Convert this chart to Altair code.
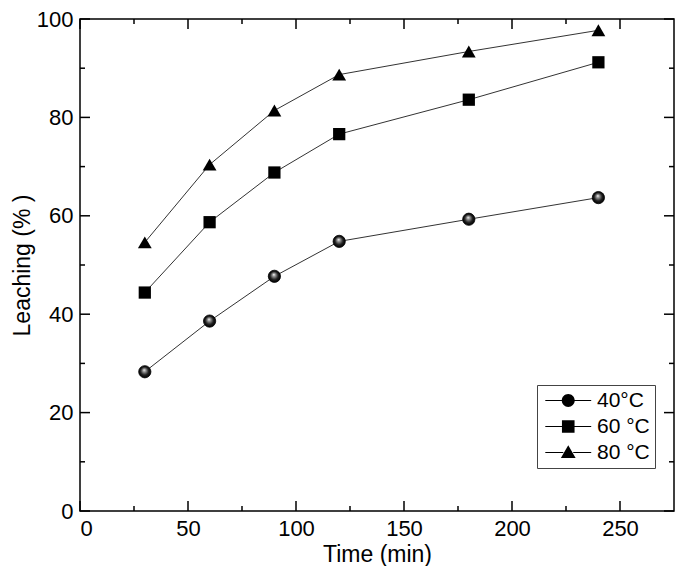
import altair as alt
import pandas as pd

time = [30, 60, 90, 120, 180, 240]
leach_40 = [28.3, 38.6, 47.7, 54.8, 59.3, 63.7]
leach_60 = [44.4, 58.7, 68.8, 76.6, 83.6, 91.2]
leach_80 = [54.6, 70.4, 81.4, 88.7, 93.4, 97.7]
series_names = ["40°C", "60 °C", "80 °C"]

x_major = [0, 50, 100, 150, 200, 250]
x_minor = [25, 75, 125, 175, 225]
y_major = [0, 20, 40, 60, 80, 100]
y_minor = [10, 30, 50, 70, 90]

rows = []
for name, vals in zip(series_names, [leach_40, leach_60, leach_80]):
    for t, v in zip(time, vals):
        rows.append({"time": t, "leach": v, "series": name})
df = pd.DataFrame(rows)

W, H = 594, 492
FONT = "Liberation Sans"
xscale = alt.Scale(domain=[0, 275], nice=False, zero=False)
yscale = alt.Scale(domain=[0, 100], nice=False, zero=False)

base = alt.Chart(df)

main_x = alt.X("time:Q", scale=xscale,
               axis=alt.Axis(orient="bottom", values=x_major, tickSize=0, domain=False,
                             grid=False, title="Time (min)", labelFontSize=22,
                             titleFontSize=23, titleFontWeight="normal", labelPadding=7,
                             titlePadding=4, labelColor="black", titleColor="black",
                             labelFont=FONT, titleFont=FONT))
main_y = alt.Y("leach:Q", scale=yscale,
               axis=alt.Axis(orient="left", values=y_major, tickSize=0, domain=False,
                             grid=False, title="Leaching (% )", labelFontSize=22,
                             titleFontSize=23, titleFontWeight="normal", labelPadding=7,
                             titlePadding=2, labelColor="black", titleColor="black",
                             labelFont=FONT, titleFont=FONT))

px = alt.X("time:Q", scale=xscale)
py = alt.Y("leach:Q", scale=yscale)

lines = base.mark_line(color="#333333", strokeWidth=1).encode(
    x=main_x, y=main_y, detail="series:N")

sphere = alt.RadialGradient(
    gradient="radial",
    stops=[alt.GradientStop(color="#ffffff", offset=0),
           alt.GradientStop(color="#a0a0a0", offset=0.22),
           alt.GradientStop(color="#202020", offset=0.65),
           alt.GradientStop(color="#000000", offset=1)],
    x1=0.45, y1=0.35, r1=0, x2=0.5, y2=0.5, r2=0.5)

pts40 = base.transform_filter(alt.datum.series == series_names[0]).mark_point(
    shape="circle", filled=True, fill=sphere, stroke="#000000", strokeWidth=0.8,
    size=150, opacity=1).encode(x=px, y=py)
pts60 = base.transform_filter(alt.datum.series == series_names[1]).mark_point(
    shape="square", filled=True, color="black", size=150, opacity=1).encode(x=px, y=py)
pts80 = base.transform_filter(alt.datum.series == series_names[2]).mark_point(
    shape="triangle-up", filled=True, color="black", size=190, opacity=1).encode(x=px, y=py)

# legend symbols: thin filled bar (the line) + marker, extending right of the slot
bar = "M-0.8,-0.055H1.2V0.055H-0.8ZM2.3,-0.055H4.3V0.055H2.3Z"
legend_paths = [
    bar + "M1.03,0A0.72,0.72,0,1,1,2.47,0A0.72,0.72,0,1,1,1.03,0Z",
    bar + "M1.05,-0.7H2.45V0.7H1.05Z",
    bar + "M1.75,-0.8L2.57,0.62H0.93Z",
]
legend_layer = base.transform_filter("false").mark_point(
    filled=True, color="black", opacity=1).encode(
    shape=alt.Shape("series:N",
                    scale=alt.Scale(domain=series_names, range=legend_paths),
                    legend=alt.Legend(orient="none", legendX=457, legendY=366,
                                      title=None, symbolSize=324,
                                      symbolFillColor="black", symbolOpacity=1,
                                      labelFontSize=21, labelFont=FONT,
                                      labelColor="black", labelOffset=34,
                                      rowPadding=4, padding=5,
                                      strokeColor="#444444", fillColor="white")))

# inward tick marks on all four sides, positioned by the scales
xmaj = pd.DataFrame({"time": x_major})
xmin = pd.DataFrame({"time": x_minor})
ymaj = pd.DataFrame({"leach": y_major})
ymin = pd.DataFrame({"leach": y_minor})
MAJ, MIN = 10, 5


def xtick(d, at, length):
    return alt.Chart(d).mark_rule(color="black", strokeWidth=1.5).encode(
        x=px, y=alt.value(at), y2=alt.value(at - length if at > 0 else at + length))


def ytick(d, at, length):
    return alt.Chart(d).mark_rule(color="black", strokeWidth=1.5).encode(
        y=py, x=alt.value(at), x2=alt.value(at - length if at > 0 else at + length))


ticks = [
    xtick(xmaj, H, MAJ), xtick(xmin, H, MIN), xtick(xmaj, 0, MAJ), xtick(xmin, 0, MIN),
    ytick(ymaj, 0, MAJ), ytick(ymin, 0, MIN), ytick(ymaj, W, MAJ), ytick(ymin, W, MIN),
]

chart = alt.layer(lines, pts40, pts60, pts80, legend_layer, *ticks).properties(
    width=W, height=H, padding={"left": 3, "top": 0, "right": 0, "bottom": 0}
).configure(font=FONT).configure_view(stroke="black", strokeWidth=1.5)

chart.save("out.html", embed_options={"renderer": "svg", "actions": False})
